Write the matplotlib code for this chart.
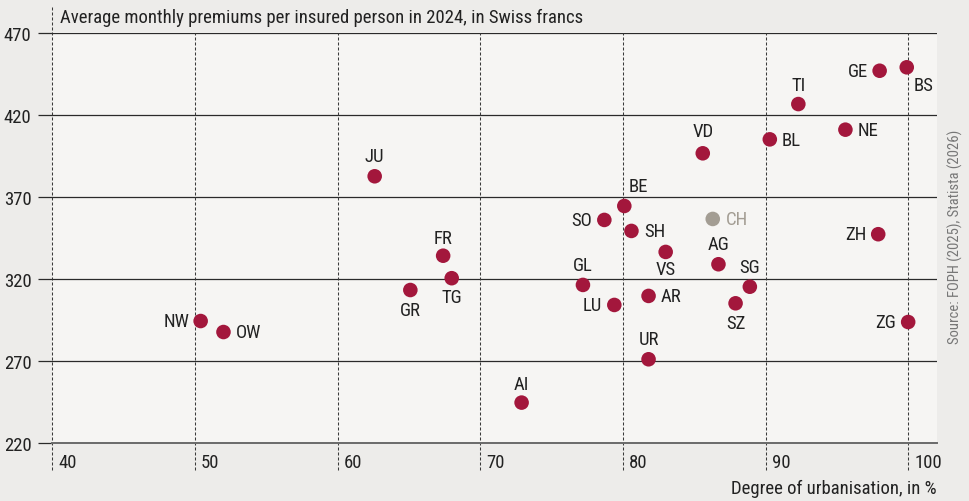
import matplotlib
matplotlib.use("Agg")
import matplotlib.pyplot as plt
from matplotlib import font_manager

# Daten: Urbanisierungsgrad (%) und mittlere Monatsprämie (CHF)
cantons = ["GE", "BS", "TI", "NE", "BL", "VD", "JU", "BE", "SO", "CH", "SH", "ZH", "VS",
           "FR", "AG", "TG", "GL", "SG", "GR", "AR", "LU", "SZ", "NW", "ZG", "OW", "UR", "AI"]
urbanisation = [98.0, 99.9, 92.3, 95.6, 90.3, 85.6, 62.6, 80.1, 78.7, 86.3, 80.6, 97.9, 83.0,
                67.4, 86.7, 68.0, 77.2, 88.9, 65.1, 81.8, 79.4, 87.9, 50.4, 100.0, 52.0, 81.8, 72.9]
premium = [447.0, 449.1, 426.7, 411.1, 405.2, 396.7, 382.7, 364.6, 356.1, 356.7, 349.4, 347.4, 336.6,
           334.3, 329.1, 320.6, 316.5, 315.4, 313.4, 309.8, 304.3, 305.3, 294.5, 293.9, 287.8, 271.2, 244.8]

x_ticks = [40, 50, 60, 70, 80, 90, 100]
y_ticks = [220, 270, 320, 370, 420, 470]

TITLE = "Average monthly premiums per insured person in 2024, in Swiss francs"
XLABEL = "Degree of urbanisation, in %"
SOURCE = "Source: FOPH (2025), Statista (2026)"

# Beschriftungs-Position relativ zum Punkt (Pixel): dx, dy, ha
label_pos = {
    "GE": (-12, 0, "right"), "BS": (7, -18, "left"), "TI": (0, 19, "center"),
    "NE": (12, 0, "left"), "BL": (12, -1, "left"), "VD": (0, 22, "center"),
    "JU": (0, 20, "center"), "BE": (4, 20, "left"), "SO": (-12, 0, "right"),
    "CH": (13, 0, "left"), "SH": (13, 0, "left"), "ZH": (-12, 0, "right"),
    "VS": (0, -17, "center"), "FR": (0, 18, "center"), "AG": (0, 20, "center"),
    "TG": (0, -19, "center"), "GL": (0, 20, "center"), "SG": (0, 20, "center"),
    "GR": (0, -20, "center"), "AR": (12, 0, "left"), "LU": (-12, 0, "right"),
    "SZ": (0, -20, "center"), "NW": (-11, 0, "right"), "ZG": (-12, 0, "right"),
    "OW": (12, 0, "left"), "UR": (0, 20, "center"), "AI": (0, 19, "center"),
}

RED = "#a3173c"
GREY_PT = "#a39d93"
FIG_BG = "#edecea"
AX_BG = "#f6f5f3"
TXT = "#222222"
FS = 13.5

# schmale Schrift, falls vorhanden
available = {f.name for f in font_manager.fontManager.ttflist}
fam = [f for f in ["Roboto Condensed", "Liberation Sans Narrow", "DejaVu Sans"] if f in available]
plt.rcParams["font.family"] = fam
if fam[0] == "DejaVu Sans":
    plt.rcParams["font.stretch"] = "condensed"

fig = plt.figure(figsize=(9.69, 5.02), dpi=100, facecolor=FIG_BG)
ax = fig.add_axes([52.3 / 969, 1 - 444.3 / 502, (936.7 - 52.3) / 969, (444.3 - 34) / 502])
ax.set_facecolor(AX_BG)

ax.set_xlim(40, 102)
ax.set_ylim(220, 470)

# horizontale Gitterlinien
for yv in y_ticks[1:]:
    ax.axhline(yv, color="#2a2a2a", lw=0.9, zorder=1)

# vertikale gestrichelte Linien, ragen unter die Achse
for xv in x_ticks:
    top = 1.063 if xv == 40 else 1.0
    ax.axvline(xv, ymin=-0.065, ymax=top, color="#3a3a3a", lw=0.75,
               linestyle=(0, (2.9, 1.9)), clip_on=False, zorder=1)
    ax.annotate(str(xv), xy=(xv, 0), xycoords=ax.get_xaxis_transform(),
                xytext=(6, -19), textcoords="offset pixels", ha="left", va="center",
                fontsize=FS, color=TXT, annotation_clip=False)

for s in ["top", "right", "left"]:
    ax.spines[s].set_visible(False)
ax.spines["bottom"].set_color("#6a6a6a")
ax.spines["bottom"].set_linewidth(1.4)

ax.set_xticks([])
ax.set_yticks(y_ticks)
ax.tick_params(axis="y", length=10, width=0.9, color="#2a2a2a", pad=5, labelsize=FS, labelcolor=TXT)

colors = [GREY_PT if c == "CH" else RED for c in cantons]
ax.scatter(urbanisation, premium, s=110, c=colors, linewidths=0, zorder=3)

for c, xv, yv in zip(cantons, urbanisation, premium):
    dx, dy, ha = label_pos[c]
    ax.annotate(c, xy=(xv, yv), xytext=(dx, dy), textcoords="offset pixels",
                ha=ha, va="center", fontsize=FS,
                color=GREY_PT if c == "CH" else TXT, zorder=4)

fig.text(60 / 969, 1 - 18 / 502, TITLE, ha="left", va="center", fontsize=FS, color=TXT)
fig.text(936.7 / 969, 1 - 489 / 502, XLABEL, ha="right", va="center", fontsize=FS, color=TXT)
fig.text(955 / 969, 1 - 237 / 502, SOURCE, rotation=90, ha="center", va="center",
         fontsize=10.5, color="#777777")

fig.savefig("out.png", dpi=100, facecolor=FIG_BG)
